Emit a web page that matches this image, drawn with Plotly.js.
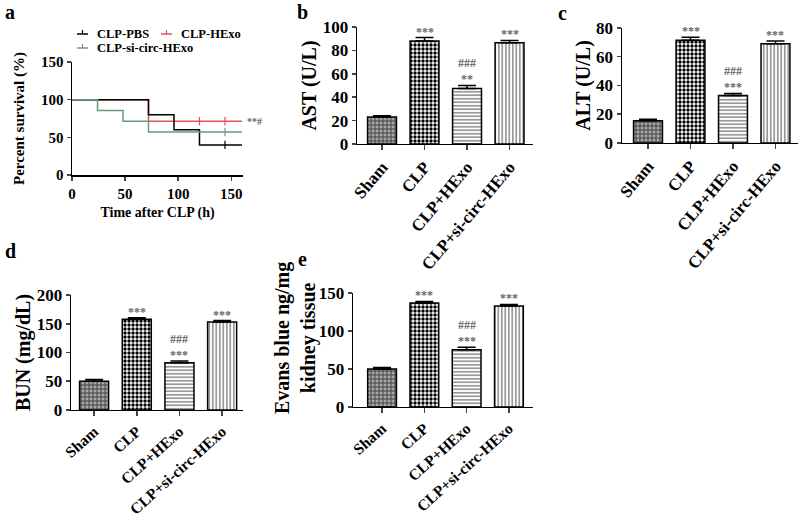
<!DOCTYPE html>
<html>
<head>
<meta charset="utf-8">
<script src="https://cdn.plot.ly/plotly-3.0.1.min.js"></script>
<style>
  html, body { margin: 0; padding: 0; background: #fff; }
  #chart { width: 800px; height: 524px; }
</style>
</head>
<body>
<div id="chart"></div>
<script>
// survival data (panel a)
var pbsTime = [0, 72, 96, 120, 160];
var pbsSurv = [100, 80, 60, 40, 40];
var hexoTime = [0, 72, 160];
var hexoSurv = [100, 71.4, 71.4];
var siTime = [0, 24, 48, 72, 160];
var siSurv = [100, 85.7, 71.4, 57.1, 57.1];
// censored points
var pbsCensT = [144];
var pbsCensY = [40];
var hexoCensT = [120, 144];
var hexoCensY = [71.4, 71.4];
var siCensT = [144];
var siCensY = [57.1];

// bar panels
var groups = ['Sham', 'CLP', 'CLP+HExo', 'CLP+si-circ-HExo'];
var astMean = [23, 88, 47.5, 86.5];
var astErr = [1.2, 3, 2.5, 2];
var altMean = [15.5, 71.5, 33, 69];
var altErr = [1, 2, 1.5, 2];
var bunMean = [50, 158, 82, 153];
var bunErr = [3, 2.5, 3, 2.5];
var ebMean = [50, 137, 75.5, 133];
var ebErr = [2, 2, 3, 2];
var sigTop = ['', '***', '###<br>**', '***'];
var sigTop2 = ['', '***', '###<br>***', '***'];

var FONT = '"Liberation Serif", "Times New Roman", serif';
var red = '#e4505a', green = '#6a9a7b';

// bar fills: Sham, CLP, CLP+HExo, CLP+si-circ-HExo
var patterns = [
    {shape: '+', size: 4, solidity: 0.45, fgcolor: '#444', bgcolor: '#a8a8a8', fillmode: 'replace'},
    {shape: '.', size: 4, solidity: 0.55, fgcolor: '#000', bgcolor: '#fff', fillmode: 'replace'},
    {shape: '-', size: 3.5, solidity: 0.3, fgcolor: '#555', bgcolor: '#fff', fillmode: 'replace'},
    {shape: '|', size: 3.5, solidity: 0.3, fgcolor: '#555', bgcolor: '#fff', fillmode: 'replace'}
];

function barTraces(xa, ya, means, errs) {
    var out = [];
    for (var i = 0; i < groups.length; i++) {
        out.push({
            type: 'bar', x: [groups[i]], y: [means[i]], xaxis: xa, yaxis: ya,
            width: 0.68, showlegend: false, hoverinfo: 'skip',
            marker: {color: '#fff', line: {color: '#000', width: 1.5}, pattern: patterns[i]},
            error_y: {type: 'data', symmetric: false, array: [errs[i]], arrayminus: [0],
                      color: '#000', thickness: 1.5, width: 9}
        });
    }
    return out;
}

function survTrace(t, s, col) {
    return {type: 'scatter', mode: 'lines', x: t, y: s, line: {shape: 'hv', color: col, width: 1.5},
            showlegend: false, hoverinfo: 'skip'};
}
function censTrace(t, s, col) {
    return {type: 'scatter', mode: 'markers', x: t, y: s,
            marker: {symbol: 'line-ns', size: 6, line: {color: col, width: 1.2}},
            showlegend: false, hoverinfo: 'skip'};
}

// red first so the black and green curves sit on top at 100 %
var data = [
    survTrace(hexoTime, hexoSurv, red),
    survTrace(pbsTime, pbsSurv, '#000'),
    survTrace(siTime, siSurv, green),
    censTrace(pbsCensT, pbsCensY, '#000'),
    censTrace(hexoCensT, hexoCensY, red),
    censTrace(siCensT, siCensY, green)
];
data = data.concat(barTraces('x2', 'y2', astMean, astErr));
data = data.concat(barTraces('x3', 'y3', altMean, altErr));
data = data.concat(barTraces('x4', 'y4', bunMean, bunErr));
data = data.concat(barTraces('x5', 'y5', ebMean, ebErr));

function xBar(dom, rng, y, ang, fs) {
    return {domain: dom, range: rng, anchor: y, type: 'category', showline: true, linewidth: 1.5, linecolor: '#000',
            ticks: 'outside', ticklen: 5, tickwidth: 1.5, tickangle: ang, tickfont: {size: fs},
            showgrid: false, zeroline: false, fixedrange: true};
}
function yBar(dom, rng, dt, x, title, so) {
    var ax = {domain: dom, range: rng, dtick: dt, anchor: x, showline: true, linewidth: 1.5, linecolor: '#000',
            ticks: 'outside', ticklen: 4, tickwidth: 1.5, tickfont: {size: 17},
            showgrid: false, zeroline: false, fixedrange: true};
    if (title) ax.title = {text: title, font: {size: 20}, standoff: so};
    return ax;
}

var layout = {
    width: 800, height: 524,
    margin: {l: 0, r: 0, t: 0, b: 0},
    paper_bgcolor: '#fff', plot_bgcolor: '#fff',
    font: {family: FONT, weight: 'bold', color: '#000'},
    bargap: 0,
    xaxis: {domain: [0.09, 0.3038], range: [0, 161], dtick: 50, showline: true, linewidth: 1.5,
            linecolor: '#000', ticks: 'outside', ticklen: 4, tickwidth: 1.5, tickfont: {size: 15},
            showgrid: false, zeroline: false, title: {text: 'Time after CLP (h)', font: {size: 14}, standoff: 6}},
    yaxis: {domain: [0.666, 0.8817], range: [0, 150], dtick: 50, showline: true, linewidth: 1.5,
            linecolor: '#000', ticks: 'outside', ticklen: 4, tickwidth: 1.5, tickfont: {size: 15},
            showgrid: false, zeroline: false, title: {text: 'Percent survival (%)', font: {size: 15}, standoff: 12}},
    xaxis2: xBar([0.4463, 0.6663], [-0.588, 3.553], 'y2', -50, 17),
    yaxis2: yBar([0.7252, 0.9485], [0, 100], 20, 'x2', 'AST (U/L)', 0),
    xaxis3: xBar([0.7775, 0.9975], [-0.612, 3.53], 'y3', -50, 17),
    yaxis3: yBar([0.7271, 0.9466], [0, 80], 20, 'x3', 'ALT (U/L)', 0),
    xaxis4: xBar([0.0888, 0.3038], [-0.54, 3.49], 'y4', -42, 15.5),
    yaxis4: yBar([0.2176, 0.437], [0, 200], 50, 'x4', 'BUN (mg/dL)', 0),
    xaxis5: xBar([0.4413, 0.6663], [-0.686, 3.57], 'y5', -42, 15.5),
    yaxis5: yBar([0.2233, 0.4408], [0, 150], 50, 'x5'),
    shapes: [],
    annotations: []
};

// two-line title of panel e, placed a little above the axis centre as in the figure
layout.annotations.push({text: 'Evans blue ng/mg<br>kidney tissue', xref: 'paper', yref: 'paper',
    x: 295 / 800, y: 1 - 338 / 524, textangle: -90, xanchor: 'center', yanchor: 'middle',
    showarrow: false, font: {size: 20}});

// panel letters
var letters = [['a', 10, 12], ['b', 302, 12], ['c', 562, 13], ['d', 10, 251], ['e', 302, 259]];
letters.forEach(function (l) {
    layout.annotations.push({text: l[0], xref: 'paper', yref: 'paper', x: l[1] / 800, y: 1 - l[2] / 524,
        xanchor: 'center', yanchor: 'middle', showarrow: false, font: {size: 20}});
});

// legend for panel a
var legendItems = [['CLP-PBS', '#000', 77, 34], ['CLP-HExo', red, 161, 34], ['CLP-si-circ-HExo', green, 77, 48]];
legendItems.forEach(function (it) {
    var y = 1 - it[3] / 524;
    layout.shapes.push({type: 'line', xref: 'paper', yref: 'paper', x0: it[2] / 800, x1: (it[2] + 11) / 800,
        y0: y, y1: y, line: {color: it[1], width: 1.5}});
    layout.shapes.push({type: 'line', xref: 'paper', yref: 'paper', x0: (it[2] + 5.5) / 800, x1: (it[2] + 5.5) / 800,
        y0: y, y1: y + 4 / 524, line: {color: it[1], width: 1.2}});
    layout.annotations.push({text: it[0], xref: 'paper', yref: 'paper', x: (it[2] + 18) / 800, y: y,
        xanchor: 'left', yanchor: 'middle', showarrow: false, font: {size: 12.5}});
});
layout.annotations.push({text: '**#', xref: 'x', yref: 'y', x: 161, y: 71.4, xanchor: 'left',
    yanchor: 'middle', xshift: 2, showarrow: false, font: {size: 10, color: '#666'}});

// significance marks
function addSig(xa, ya, means, errs, marks) {
    for (var i = 0; i < groups.length; i++) {
        if (!marks[i]) continue;
        layout.annotations.push({text: marks[i], xref: xa, yref: ya, x: groups[i], y: means[i] + errs[i],
            xanchor: 'center', yanchor: 'bottom', yshift: -3, showarrow: false,
            font: {size: 12, color: '#666'}});
    }
}
addSig('x2', 'y2', astMean, astErr, sigTop);
addSig('x3', 'y3', altMean, altErr, sigTop2);
addSig('x4', 'y4', bunMean, bunErr, sigTop2);
addSig('x5', 'y5', ebMean, ebErr, sigTop2);

Plotly.newPlot('chart', data, layout, {displayModeBar: false, staticPlot: true});
</script>
</body>
</html>
